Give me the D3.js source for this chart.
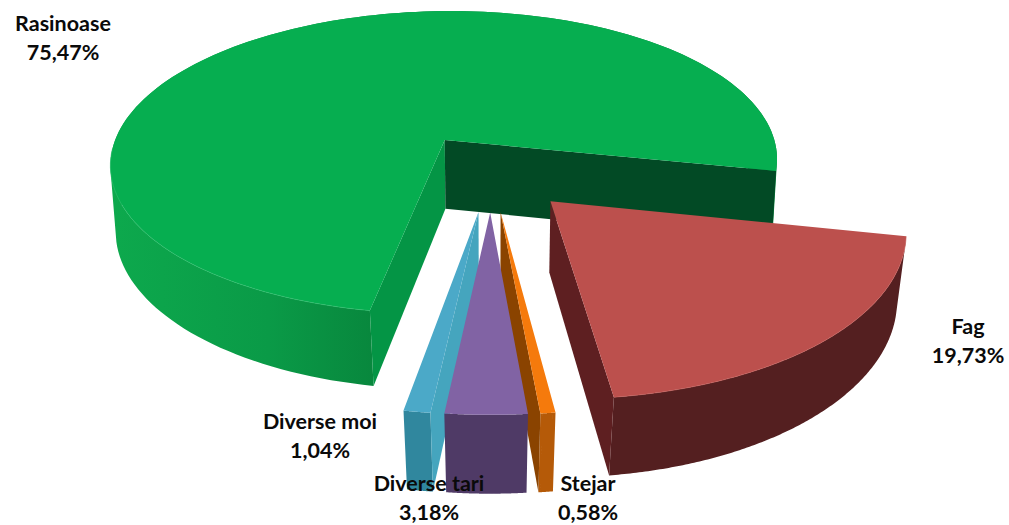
<!DOCTYPE html>
<html><head><meta charset="utf-8">
<script src="https://cdnjs.cloudflare.com/ajax/libs/d3/7.8.5/d3.min.js"></script>
<style>html,body{margin:0;padding:0;background:#fff}svg{display:block}
text{font-family:Lato,"Open Sans",sans-serif;font-weight:700;font-size:21.5px;fill:#0a0a0a;text-anchor:middle}</style>
</head><body><svg id="c" width="1009" height="525"></svg>
<script>
const categories=["Rasinoase","Fag","Stejar","Diverse tari","Diverse moi"];
const values=[75.47,19.73,0.58,3.18,1.04];
const topColors=["#06AE50","#BC504D","#F57A0C","#8163A4","#4BA9C8"];
const outerColors=["url(#greenSide)","#541F20","#B55A08","#4F3A66","#30879E"];
const wallStartColors=["#049545","#5E1F21","#8A4300","#5A4176","#45A5BE"];
const wallEndColors=["#024A25","#5E1F21","#8A4300","#5A4176","#30879E"];
const rimColors=["#2FC06E","#C9615C",null,null,null];
const labelX=[63,968,588,429,320];
const labelY=[31,334,491,491,429];
const drawOrder=[0,4,2,3,1];
const svg=d3.select("#c");
const grad=svg.append("defs").append("linearGradient").attr("id","greenSide")
  .attr("gradientUnits","userSpaceOnUse").attr("x1",110).attr("x2",375).attr("y1",0).attr("y2",0);
grad.append("stop").attr("offset","0").attr("stop-color","#0DA94D");
grad.append("stop").attr("offset","0.6").attr("stop-color","#0A9A47");
grad.append("stop").attr("offset","1").attr("stop-color","#08873D");
const pie=d3.pie().sort(null).startAngle(190*Math.PI/180).endAngle((190+360)*Math.PI/180);
const arcs=pie(values);
const explode=0.25, cx=491;
const perspY=0.1525, perspD=0.09;
const sx=d3.scaleLinear().domain([-1,1]).range([cx-340,cx+340]);
const sy=d3.scaleLinear().domain([0,1]).range([171.6,171.6+157.5]);
const depth=d3.scaleLinear().domain([0,1]).range([0,70]);
function project(u,v,bottom){
  const den=1-perspY*v;
  const x0=cx+(sx(u)-cx)/den, y0=sy(v/den);
  if(!bottom) return [x0,y0];
  const shrink=0.985-0.02*Math.max(v,0);
  return [cx+(x0-cx)*shrink, y0+depth(1/(1-perspD*v))];
}
const line=d3.line();
function pt(a,r,mid,bottom){
  const u=explode*Math.sin(mid)+r*Math.sin(a);
  const v=-explode*Math.cos(mid)-r*Math.cos(a);
  return project(u,v,bottom);
}
const N=160;
function rim(d,mid,bottom){
  return d3.range(0,N+1).map(i=>pt(d.startAngle+(d.endAngle-d.startAngle)*i/N,1,mid,bottom));
}
function band(top,bot){
  return d3.range(0,N).map(k=>{
    const q=[top[k],top[k+1],bot[k+1],bot[k]];
    if(d3.polygonArea(q)<0) q.reverse();
    return line(q)+"Z";
  }).join("");
}
drawOrder.forEach(i=>{
  const d=arcs[i], mid=(d.startAngle+d.endAngle)/2;
  const g=svg.append("g");
  const top=rim(d,mid,false), bot=rim(d,mid,true);
  const apexT=pt(0,0,mid,false), apexB=pt(0,0,mid,true);
  g.append("path").attr("d",band(top,bot)).attr("fill",outerColors[i]);
  if(Math.sin(d.startAngle)<0)
    g.append("path").attr("d",line([apexT,top[0],bot[0],apexB])+"Z").attr("fill",wallStartColors[i]);
  if(Math.sin(d.endAngle)>0)
    g.append("path").attr("d",line([apexT,top[N],bot[N],apexB])+"Z").attr("fill",wallEndColors[i]);
  g.append("path").attr("d",line([apexT].concat(top))+"Z").attr("fill",topColors[i]);
  if(rimColors[i]){
    let end=0;
    while(end<=N && Math.cos(d.startAngle+(d.endAngle-d.startAngle)*end/N)<-0.05) end++;
    g.append("path").attr("d",line(top.slice(0,end))).attr("fill","none").attr("stroke",rimColors[i]).attr("stroke-width",1).attr("stroke-opacity",0.6);
  }
});
categories.forEach((c,i)=>{
  const t=svg.append("text").attr("x",labelX[i]).attr("y",labelY[i]);
  t.append("tspan").attr("x",labelX[i]).text(c);
  t.append("tspan").attr("x",labelX[i]).attr("dy",29).text(values[i].toFixed(2).replace(".",",")+"%");
});
</script></body></html>
